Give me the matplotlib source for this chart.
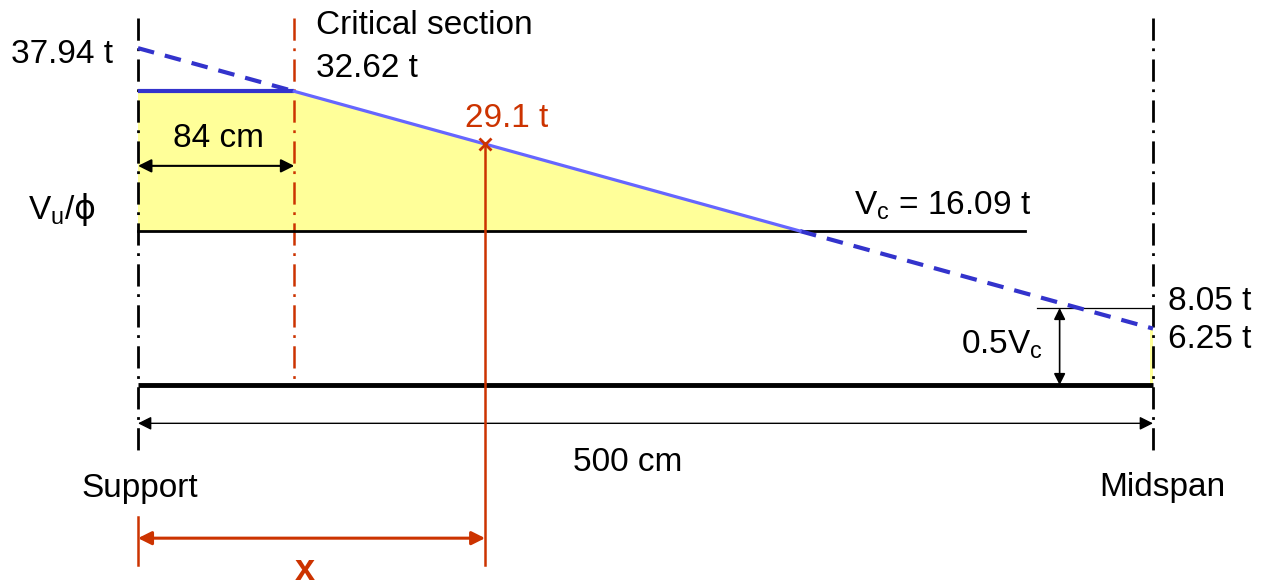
import matplotlib
matplotlib.use("Agg")
import matplotlib.pyplot as plt
import numpy as np

plt.rcParams['font.family'] = ['Liberation Sans', 'DejaVu Sans']
plt.rcParams['lines.scale_dashes'] = False

# values written on the diagram
half_span = 500        # cm, support to midspan
d_crit = 84            # cm, support to critical section
vu_support = 37.94     # t
vu_crit = 32.62        # t
vu_point = 29.1        # t
vc = 16.09             # t
half_vc = 8.05         # t
vu_mid = 6.25          # t

# geometry as drawn (the sketch is not to scale)
span = [0, half_span]
x_crit = 77            # cm, critical section as drawn
x_point = 171          # cm, section where Vu/phi = 29.1 t
x_vc_end = 437         # cm, end of the Vc line
x_half_vc = [443, 454] # cm, start of the 0.5Vc line, its arrow
vu_drawn = [35.2, 5.9] # t, Vu/phi line at support and midspan

red = '#cc3300'
blue = '#3333cc'
light_blue = '#6666ff'
yellow = '#ffff99'

fig = plt.figure(figsize=(12.69, 5.82), dpi=100)
ax = fig.add_axes([0, 0, 1, 1])

y_crit = np.interp(x_crit, span, vu_drawn)
y_point = np.interp(x_point, span, vu_drawn)
x_cross = np.interp(vc, vu_drawn[::-1], span[::-1])

# shaded part where stirrups are needed
ax.fill([0, 0, x_crit, x_cross], [vc, y_crit, y_crit, vc], color=yellow, lw=0, zorder=1)
ax.fill_between([half_span - 1.5, half_span], 0, vu_drawn[1], color=yellow, lw=0, zorder=1)

# Vu/phi line
ax.plot([0, x_crit], [vu_drawn[0], y_crit], color=blue, lw=3, dashes=(12, 8), zorder=4)
ax.plot([x_cross, half_span], [vc, vu_drawn[1]], color=blue, lw=3, dashes=(12, 8), zorder=4)
ax.plot([0, x_crit], [y_crit, y_crit], color=blue, lw=3, solid_capstyle='butt', zorder=4)
ax.plot([x_crit, x_cross], [y_crit, vc], color=light_blue, lw=2.3, zorder=4)

# Vc, 0.5Vc and base line
ax.plot([0, x_vc_end], [vc, vc], color='k', lw=2, zorder=3)
ax.plot(span, [0, 0], color='k', lw=3.5, solid_capstyle='butt', zorder=3)
ax.plot([x_half_vc[0], half_span], [half_vc, half_vc], color='k', lw=0.9, zorder=3)
ax.annotate('', xy=(x_half_vc[1], half_vc), xytext=(x_half_vc[1], 0),
            arrowprops=dict(arrowstyle='<|-|>', color='k', lw=1.2, mutation_scale=17,
                            shrinkA=0, shrinkB=0))

# support, midspan and critical section lines
dashdot = (16, 5.5, 2, 6)
for xv in span:
    ax.plot([xv, xv], [38.35, -7.3], color='k', lw=2, dashes=dashdot, zorder=2)
ax.plot([x_crit, x_crit], [38.35, 0], color=red, lw=1.8, dashes=dashdot, zorder=2)

# section x
ax.plot([x_point, x_point], [y_point, -18.8], color=red, lw=1.8, zorder=5)
ax.plot(x_point, y_point, marker='x', color=red, ms=8, mew=2, zorder=6)
ax.plot([0, 0], [-13.8, -18.8], color=red, lw=1.8)
ax.annotate('', xy=(x_point, -16.0), xytext=(0, -16.0),
            arrowprops=dict(arrowstyle='<|-|>', color=red, lw=2.2, mutation_scale=20,
                            shrinkA=0, shrinkB=0))

# dimension arrows
ax.annotate('', xy=(x_crit, 22.9), xytext=(0, 22.9),
            arrowprops=dict(arrowstyle='<|-|>', color='k', lw=1.5, mutation_scale=20,
                            shrinkA=0, shrinkB=0))
ax.annotate('', xy=(half_span, -4.0), xytext=(0, -4.0),
            arrowprops=dict(arrowstyle='<|-|>', color='k', lw=1, mutation_scale=20,
                            shrinkA=0, shrinkB=0))

fs = 24
ax.text(-12.3, 33.64, f'{vu_support} t', fontsize=fs, ha='right', va='baseline')
ax.text(87.7, 36.67, 'Critical section', fontsize=fs, ha='left', va='baseline')
ax.text(87.7, 32.18, f'{vu_crit} t', fontsize=fs, ha='left', va='baseline')
ax.text(181.8, 26.96, f'{vu_point} t', fontsize=fs, color=red, ha='center', va='baseline')
ax.text(x_crit / 2 + 1, 24.87, f'{d_crit} cm', fontsize=fs, ha='center', va='baseline')
ax.text(-54.2, 17.34, r'V$_\mathregular{u}$/$\mathrm{\phi}$', fontsize=fs, ha='left', va='baseline')
ax.text(352.7, 17.87, r'V$_\mathregular{c}$ = ' + f'{vc} t', fontsize=fs, ha='left', va='baseline')
ax.text(507.4, 7.84, f'{half_vc} t', fontsize=fs, ha='left', va='baseline')
ax.text(507.4, 3.87, f'{vu_mid} t', fontsize=fs, ha='left', va='baseline')
ax.text(445.8, 3.34, r'0.5V$_\mathregular{c}$', fontsize=fs, ha='right', va='baseline')
ax.text(241.4, -8.99, f'{half_span} cm', fontsize=fs, ha='center', va='baseline')
ax.text(1.0, -11.7, 'Support', fontsize=fs, ha='center', va='baseline')
ax.text(504.7, -11.6, 'Midspan', fontsize=fs, ha='center', va='baseline')
ax.text(82.3, -20.37, 'x', fontsize=26, color=red, fontweight='bold', ha='center', va='baseline')

ax.set_xlim(-67.98, 557.14)
ax.set_ylim(-20.58, 40.23)
ax.axis('off')

fig.savefig('out.png', dpi=100, facecolor='white')
